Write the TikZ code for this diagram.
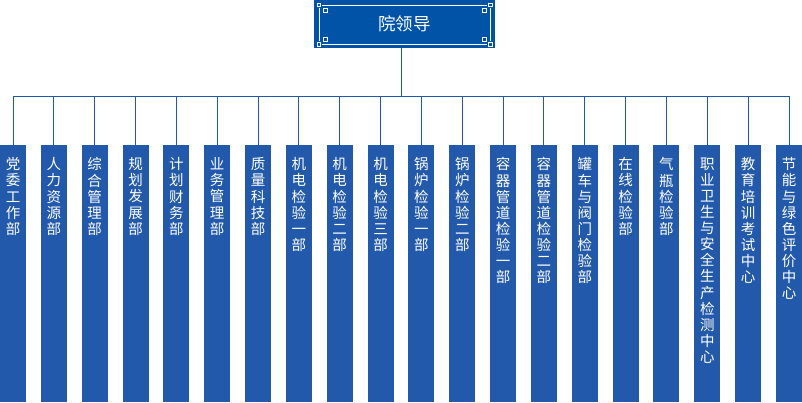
\documentclass[tikz,border=0pt]{standalone}
\usepackage{fontspec}
\setmainfont{Noto Sans CJK SC}
\definecolor{barblue}{HTML}{2259AA}
\definecolor{topblue}{HTML}{0053A7}
\begin{document}
\begin{tikzpicture}[x=1pt,y=-1pt,
  barbox/.style={fill=barblue,draw=none,minimum width=26pt,minimum height=257pt,anchor=north,inner sep=0pt},
  bartext/.style={text=white,anchor=north,align=center,font=\fontsize{14.5}{16.1}\selectfont,inner sep=0pt},
  link/.style={draw=barblue,line width=1pt},
  deco/.style={draw=white,line width=1pt}]
\useasboundingbox (0,0) rectangle (802,402);
% top box
\node[fill=topblue,minimum width=181pt,minimum height=48pt,inner sep=0pt,anchor=north west] (top) at (314,0) {};
\node[text=white,font=\fontsize{17.5}{20}\selectfont] (toptext) at (top.center) {院领导};
% decoration frame
\draw[deco] (322,5) -- (487,5) (322,44) -- (487,44) (319,8) -- (319,41) (490,8) -- (490,41);
\foreach \cx/\cy/\sx/\sy in {319/5/1/1, 490/5/-1/1, 319/44/1/-1, 490/44/-1/-1}{
  \draw[deco] (\cx-2*\sx,\cy-2*\sy) rectangle +(3.5*\sx,3.5*\sy);
  \draw[deco] (\cx+4*\sx,\cy+3*\sy) rectangle +(4*\sx,4*\sy);
}
% bars
\foreach \i/\t in {0/党\\委\\工\\作\\部, 1/人\\力\\资\\源\\部, 2/综\\合\\管\\理\\部, 3/规\\划\\发\\展\\部,
  4/计\\划\\财\\务\\部, 5/业\\务\\管\\理\\部, 6/质\\量\\科\\技\\部, 7/机\\电\\检\\验\\一\\部,
  8/机\\电\\检\\验\\二\\部, 9/机\\电\\检\\验\\三\\部, 10/锅\\炉\\检\\验\\一\\部, 11/锅\\炉\\检\\验\\二\\部,
  12/容\\器\\管\\道\\检\\验\\一\\部, 13/容\\器\\管\\道\\检\\验\\二\\部, 14/罐\\车\\与\\阀\\门\\检\\验\\部,
  15/在\\线\\检\\验\\部, 16/气\\瓶\\检\\验\\部, 17/职\\业\\卫\\生\\与\\安\\全\\生\\产\\检\\测\\中\\心,
  18/教\\育\\培\\训\\考\\试\\中\\心, 19/节\\能\\与\\绿\\色\\评\\价\\中\\心}{
  \pgfmathsetmacro{\cx}{13+\i*40.842}
  \node[barbox] (b\i) at (\cx,145) {};
  \node[bartext] (t\i) at (\cx,157.5) {\t};
  \coordinate (h\i) at (\cx,96);
}
\coordinate (hub) at (401,96);
\draw[link] (top.south -| hub) -- (hub);
\draw[link] (h0) -- (h19);
\foreach \i in {0,...,19}{
  \draw[link] (h\i) -- (b\i.north);
}
\end{tikzpicture}
\end{document}
